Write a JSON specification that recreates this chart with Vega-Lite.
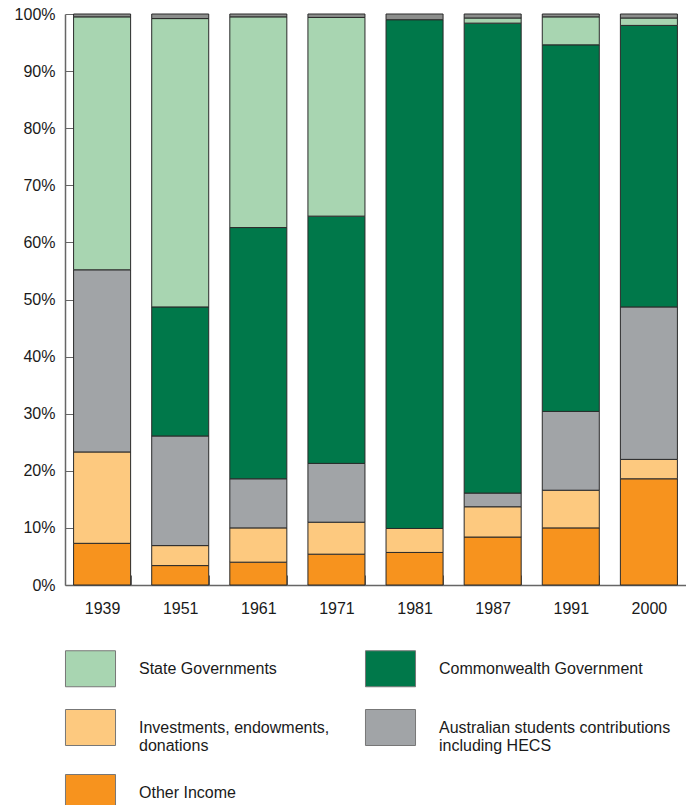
{
  "$schema": "https://vega.github.io/schema/vega-lite/v6.json",
  "width": 621,
  "height": 571,
  "autosize": {"type": "none"},
  "padding": {"left": 65, "top": 14, "right": 0, "bottom": 220},
  "background": "white",
  "config": {
    "view": {"stroke": null},
    "font": "Liberation Sans",
    "axis": {"labelFont": "Liberation Sans", "labelFontSize": 16, "labelColor": "#1a1a1a", "domainColor": "#666", "tickColor": "#666", "grid": false, "title": null}
  },
  "data": {
    "values": [
      {"year": "1939", "source": "Other Income", "pct": 7.3},
      {"year": "1939", "source": "Investments, endowments, donations", "pct": 16.0},
      {"year": "1939", "source": "Australian students contributions including HECS", "pct": 31.9},
      {"year": "1939", "source": "State Governments", "pct": 44.3},
      {"year": "1939", "source": "Unspecified", "pct": 0.5},
      {"year": "1951", "source": "Other Income", "pct": 3.4},
      {"year": "1951", "source": "Investments, endowments, donations", "pct": 3.5},
      {"year": "1951", "source": "Australian students contributions including HECS", "pct": 19.2},
      {"year": "1951", "source": "Commonwealth Government", "pct": 22.6},
      {"year": "1951", "source": "State Governments", "pct": 50.5},
      {"year": "1951", "source": "Unspecified", "pct": 0.8},
      {"year": "1961", "source": "Other Income", "pct": 4.0},
      {"year": "1961", "source": "Investments, endowments, donations", "pct": 6.0},
      {"year": "1961", "source": "Australian students contributions including HECS", "pct": 8.6},
      {"year": "1961", "source": "Commonwealth Government", "pct": 44.0},
      {"year": "1961", "source": "State Governments", "pct": 36.9},
      {"year": "1961", "source": "Unspecified", "pct": 0.5},
      {"year": "1971", "source": "Other Income", "pct": 5.4},
      {"year": "1971", "source": "Investments, endowments, donations", "pct": 5.6},
      {"year": "1971", "source": "Australian students contributions including HECS", "pct": 10.3},
      {"year": "1971", "source": "Commonwealth Government", "pct": 43.3},
      {"year": "1971", "source": "State Governments", "pct": 34.8},
      {"year": "1971", "source": "Unspecified", "pct": 0.6},
      {"year": "1981", "source": "Other Income", "pct": 5.7},
      {"year": "1981", "source": "Investments, endowments, donations", "pct": 4.2},
      {"year": "1981", "source": "Commonwealth Government", "pct": 89.1},
      {"year": "1981", "source": "Unspecified", "pct": 1.0},
      {"year": "1987", "source": "Other Income", "pct": 8.4},
      {"year": "1987", "source": "Investments, endowments, donations", "pct": 5.3},
      {"year": "1987", "source": "Australian students contributions including HECS", "pct": 2.4},
      {"year": "1987", "source": "Commonwealth Government", "pct": 82.3},
      {"year": "1987", "source": "State Governments", "pct": 0.9},
      {"year": "1987", "source": "Unspecified", "pct": 0.7},
      {"year": "1991", "source": "Other Income", "pct": 10.0},
      {"year": "1991", "source": "Investments, endowments, donations", "pct": 6.6},
      {"year": "1991", "source": "Australian students contributions including HECS", "pct": 13.8},
      {"year": "1991", "source": "Commonwealth Government", "pct": 64.2},
      {"year": "1991", "source": "State Governments", "pct": 4.9},
      {"year": "1991", "source": "Unspecified", "pct": 0.5},
      {"year": "2000", "source": "Other Income", "pct": 18.6},
      {"year": "2000", "source": "Investments, endowments, donations", "pct": 3.4},
      {"year": "2000", "source": "Australian students contributions including HECS", "pct": 26.7},
      {"year": "2000", "source": "Commonwealth Government", "pct": 49.3},
      {"year": "2000", "source": "State Governments", "pct": 1.3},
      {"year": "2000", "source": "Unspecified", "pct": 0.7}
    ]
  },
  "transform": [
    {"calculate": "indexof(['Other Income','Investments, endowments, donations','Australian students contributions including HECS','Commonwealth Government','State Governments','Unspecified'], datum.source)", "as": "k"}
  ],
  "mark": {"type": "bar", "stroke": "#2a2a2a", "strokeWidth": 1},
  "encoding": {
    "x": {
      "field": "year", "type": "nominal",
      "scale": {"paddingInner": 0.27, "paddingOuter": 0.11},
      "axis": {"labelAngle": 0, "tickBand": "extent", "tickSize": -10, "labelPadding": 25, "domainWidth": 1.5, "tickWidth": 1}
    },
    "y": {
      "field": "pct", "type": "quantitative", "stack": "zero",
      "scale": {"domain": [0, 100], "nice": false},
      "axis": {"values": [0,10,20,30,40,50,60,70,80,90,100], "labelExpr": "datum.value + '%'", "tickSize": -11, "labelPadding": 21, "domainWidth": 1.5}
    },
    "order": {"field": "k", "type": "quantitative"},
    "color": {
      "field": "source", "type": "nominal",
      "scale": {
        "domain": ["State Governments", "Commonwealth Government", "Investments, endowments, donations", "Australian students contributions including HECS", "Other Income", "Unspecified"],
        "range": ["#a8d5b1", "#00784a", "#fdc97f", "#a1a4a7", "#f7931e", "#8c8e8c"]
      },
      "legend": {
        "values": ["State Governments", "Commonwealth Government", "Investments, endowments, donations", "Australian students contributions including HECS", "Other Income"],
        "title": null,
        "orient": "none",
        "direction": "horizontal",
        "legendX": 7,
        "legendY": 636,
        "columns": 2,
        "columnPadding": 33,
        "rowPadding": 18,
        "padding": 0,
        "symbolType": "M-1.39,-1H1.39V1H-1.39Z",
        "symbolSize": 1296,
        "symbolStrokeColor": "#777",
        "symbolStrokeWidth": 1,
        "symbolOpacity": 1,
        "labelOffset": 30,
        "labelFont": "Liberation Sans",
        "labelFontSize": 16,
        "labelColor": "#1a1a1a",
        "labelLimit": 400,
        "labelExpr": "datum.label == 'Investments, endowments, donations' ? ['Investments, endowments,', 'donations'] : datum.label == 'Australian students contributions including HECS' ? ['Australian students contributions', 'including HECS'] : datum.label"
      }
    }
  }
}
